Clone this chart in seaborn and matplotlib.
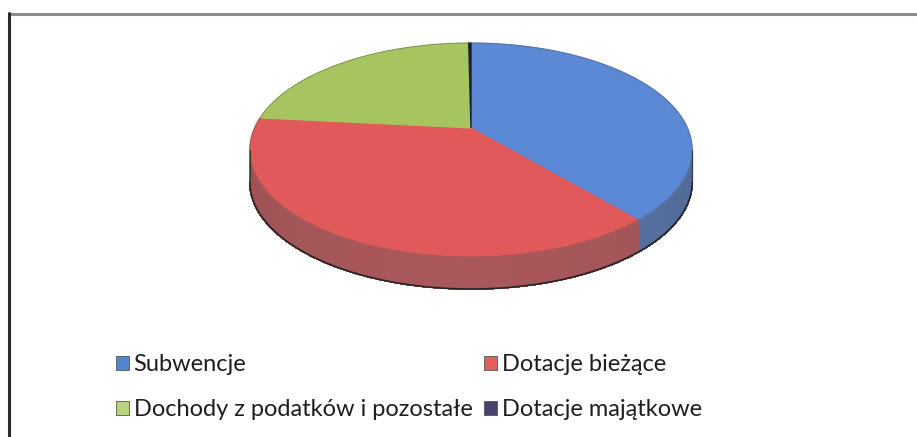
import numpy as np
import matplotlib
matplotlib.use("Agg")
import matplotlib.pyplot as plt
import seaborn as sns
from matplotlib.patches import Polygon, Patch
from matplotlib.lines import Line2D

# DATA (shares of revenue, %)
categories = ['Subwencje', 'Dotacje bieżące',
              'Dochody z podatków i pozostałe', 'Dotacje majątkowe']
shares = [38.7, 37.9, 23.2, 0.2]
top_colors = ['#5b89d5', '#e05a5a', '#a6c45f', '#1e1e3a']
legend_colors = ['#5585cc', '#e35f5f', '#b8d47c', '#44446e']

sns.set_theme(style="white")
plt.rcParams['font.family'] = ['Lato', 'DejaVu Sans']

W_PX, H_PX = 917, 437
fig = plt.figure(figsize=(W_PX / 100, H_PX / 100), dpi=100)
ax = fig.add_axes([0, 0, 1, 1])
ax.set_xlim(0, W_PX)
ax.set_ylim(H_PX, 0)
ax.axis('off')

# pie geometry (pixel space, perspective projection of a disc)
cx, cy = 471, 128
rx, ry = 216.5, 102.5
persp = 0.2056
depth = 32


def proj(theta, drop=0.0):
    t = np.radians(theta)
    d = 1 + persp * np.cos(t)
    return cx + rx * np.sin(t) / d, cy - ry * np.cos(t) / d + drop


def side_color(c, theta):
    rgb = np.array(matplotlib.colors.to_rgb(c))
    base = 0.6 * rgb + 0.4 * np.array([0.33, 0.33, 0.36])
    k = 0.92 + 0.08 * np.sin(np.radians(theta - 110) * 1.2)
    return np.clip(base * k, 0, 1)


# cumulative angles from data, clockwise from 12 o'clock
bounds = np.concatenate([[0], np.cumsum(shares) / np.sum(shares) * 360])
t_lo, t_hi = 101.9, 258.1  # visible outer wall (tangent points)

# side walls
for i, c in enumerate(top_colors):
    a0, a1 = max(bounds[i], t_lo), min(bounds[i + 1], t_hi)
    if a1 <= a0:
        continue
    steps = np.linspace(a0, a1, max(2, int(a1 - a0) + 1))
    for s0, s1 in zip(steps[:-1], steps[1:]):
        x0, y0 = proj(s0)
        x1, y1 = proj(s1)
        quad = [(x0, y0), (x1, y1), (x1, y1 + depth), (x0, y0 + depth)]
        col = side_color(c, (s0 + s1) / 2)
        ax.add_patch(Polygon(quad, closed=True, facecolor=col,
                             edgecolor=col, linewidth=0.8, antialiased=False))

# outline of the wall
arc = np.linspace(t_lo, t_hi, 200)
bx, by = proj(arc, depth)
ax.plot(bx, by, color='#262626', lw=1.2)
for t in (t_lo, t_hi):
    x, y = proj(t)
    ax.plot([x, x], [y, y + depth], color='#3a3a3a', lw=0.9)

# top faces
for i, c in enumerate(top_colors):
    arc = np.linspace(bounds[i], bounds[i + 1],
                      max(3, int(bounds[i + 1] - bounds[i]) * 2))
    px, py = proj(arc)
    pts = [(cx, cy)] + list(zip(px, py))
    ax.add_patch(Polygon(pts, closed=True, facecolor=c, edgecolor=c,
                         linewidth=0.8 if i < 3 else 1.0))

arc = np.linspace(0, 360, 400)
px, py = proj(arc)
ax.plot(px, py, color='#555555', lw=0.5, alpha=0.6)

# frame (scanned chart border)
ax.add_line(Line2D([8.5, W_PX], [14, 14], color='#8c8c8c', lw=2.2))
ax.add_line(Line2D([9, 9], [13, H_PX], color='#2b2b2b', lw=2.2))

# legend (row-wise order: column 1 gets items 0 and 2)
handles = [Patch(facecolor=legend_colors[i], edgecolor='#555555', linewidth=0.6,
                 label=categories[i]) for i in (0, 2, 1, 3)]
fig.legend(handles=handles, ncol=2, loc='upper left',
           bbox_to_anchor=(116 / W_PX, 1 - 354 / H_PX),
           frameon=False, fontsize=17, handlelength=0.55, handleheight=0.55,
           handletextpad=0.2, columnspacing=0.5, labelspacing=1.02,
           borderpad=0, borderaxespad=0, labelcolor='#1e1e1e')

fig.savefig('out.png', dpi=100)
